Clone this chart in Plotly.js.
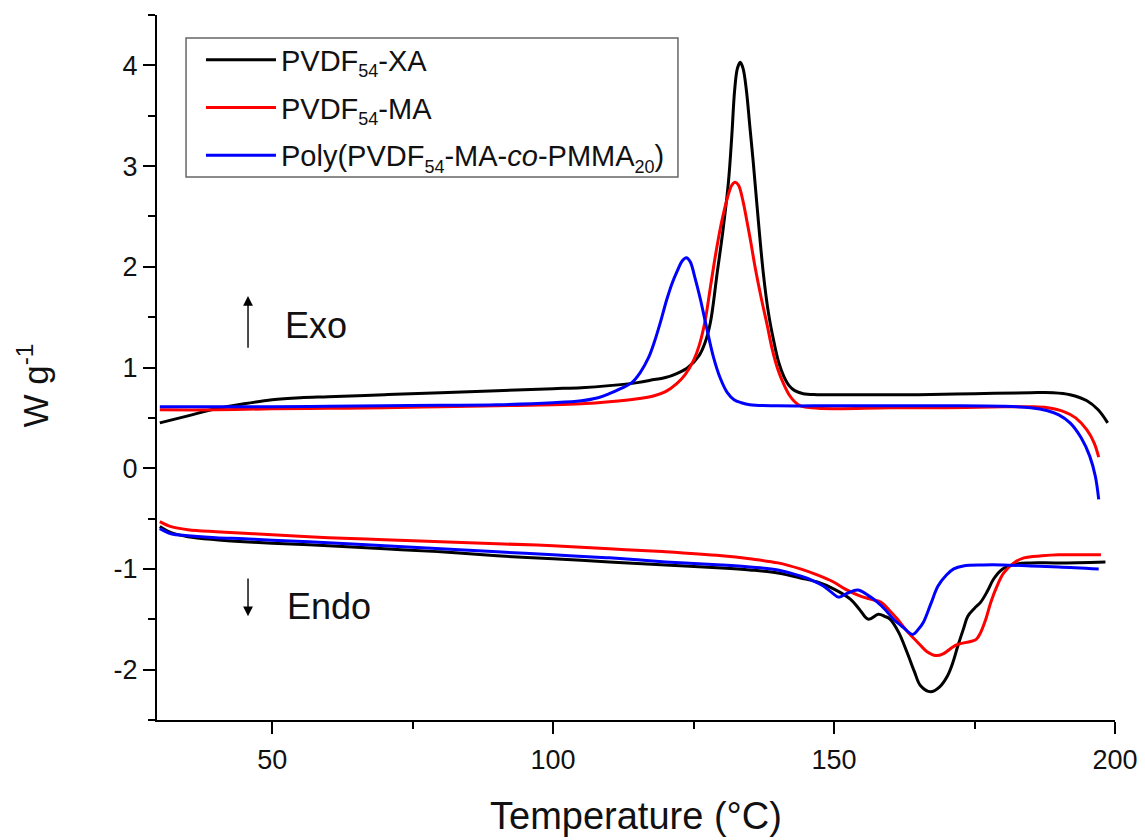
<!DOCTYPE html>
<html>
<head>
<meta charset="utf-8">
<script src="https://cdn.plot.ly/plotly-3.0.1.min.js"></script>
<style>html,body{margin:0;padding:0;background:#fff;}#chart{width:1145px;height:840px;}</style>
</head>
<body>
<div id="chart"></div>
<script>
// ---- Data ----
const SUB = s => '<sub><span style="font-size:18px">' + s + '</span></sub>';
const seriesNames = ['PVDF' + SUB('54') + '-XA', 'PVDF' + SUB('54') + '-MA', 'Poly(PVDF' + SUB('54') + '-MA-<i>co</i>-PMMA' + SUB('20') + ')'];
const seriesColors = ['#000000', '#ff0000', '#0000ff'];

// Cooling (exo) curves
const xaCoolT = [30,35,40,45,50,55,60,70,80,90,100,105,110,115,118,120,122,124,126,127,128,129.2,130.2,131.2,131.8,132.3,132.8,133.3,133.8,134.4,135,135.6,136.3,137.4,138.3,139.2,140.1,141,142,143,144.5,147,155,165,175,185,189,192,195,197,198.7];
const xaCoolW = [0.45,0.52,0.59,0.64,0.68,0.70,0.71,0.73,0.75,0.77,0.79,0.80,0.82,0.85,0.88,0.90,0.94,1.0,1.12,1.24,1.45,1.94,2.35,2.84,3.3,3.75,3.97,4.03,3.97,3.75,3.4,3.05,2.6,1.94,1.55,1.28,1.06,0.92,0.82,0.77,0.74,0.73,0.73,0.73,0.74,0.75,0.75,0.73,0.67,0.58,0.45];

const maCoolT = [30,40,50,60,70,80,90,100,105,110,115,118,120,122,123.5,125,126,127,128,129,130,131,131.8,132.4,133,133.8,134.5,135.1,136,137,138.1,139,140,141,142,143,144,146,150,160,170,180,185,188,191,193,195,196.3,197.1];
const maCoolW = [0.58,0.58,0.59,0.595,0.60,0.61,0.62,0.63,0.64,0.66,0.69,0.72,0.76,0.84,0.93,1.07,1.22,1.45,1.8,2.15,2.45,2.68,2.81,2.84,2.81,2.65,2.45,2.27,1.98,1.7,1.42,1.18,0.98,0.84,0.73,0.66,0.62,0.6,0.59,0.6,0.6,0.61,0.61,0.6,0.56,0.5,0.38,0.25,0.11];

const coCoolT = [30,40,50,60,70,80,90,100,105,108,110,112,114,115.5,117,118,119.1,120.2,121.2,122.1,123,123.7,124.4,125.2,126.2,127.3,128.5,129.7,131,132.2,133.5,135,140,150,160,170,180,185,188,190,192,194,195.5,196.5,197.1];
const coCoolW = [0.61,0.61,0.61,0.615,0.62,0.625,0.63,0.65,0.67,0.70,0.74,0.79,0.85,0.95,1.1,1.25,1.45,1.67,1.84,1.96,2.06,2.09,2.05,1.9,1.68,1.4,1.11,0.9,0.75,0.68,0.65,0.63,0.62,0.62,0.62,0.62,0.615,0.6,0.57,0.53,0.45,0.3,0.12,-0.08,-0.31];

// Heating (endo) curves
const xaHeatT = [30,32,35,40,45,50,60,70,80,90,100,110,120,130,135,140,144,147,150,152.9,154.5,156.1,157.9,159,160,161.5,163,164.3,165.4,167.2,168.8,170.2,171.2,172,173,173.8,175,176.1,177.3,178.4,180,182.6,185,190,198.3];
const xaHeatW = [-0.58,-0.64,-0.68,-0.71,-0.73,-0.745,-0.77,-0.80,-0.83,-0.87,-0.90,-0.93,-0.96,-0.99,-1.01,-1.04,-1.09,-1.13,-1.2,-1.3,-1.4,-1.5,-1.45,-1.47,-1.5,-1.63,-1.83,-2.02,-2.16,-2.22,-2.17,-2.06,-1.92,-1.77,-1.6,-1.47,-1.39,-1.33,-1.22,-1.1,-1.0,-0.95,-0.94,-0.94,-0.93];

const maHeatT = [30,32,35,40,45,50,60,70,80,90,100,110,120,130,135,140,144,147,149.9,152,154.7,156.5,158.3,160,161.3,163,164.9,166.5,168.1,169.5,171,172,174.3,175.3,176.1,177,177.9,179,180.2,182,183.8,187,190,197.5];
const maHeatW = [-0.53,-0.58,-0.61,-0.63,-0.645,-0.66,-0.69,-0.71,-0.73,-0.75,-0.77,-0.80,-0.83,-0.87,-0.9,-0.94,-1.0,-1.06,-1.13,-1.2,-1.27,-1.3,-1.33,-1.42,-1.5,-1.62,-1.73,-1.82,-1.86,-1.84,-1.78,-1.75,-1.72,-1.7,-1.63,-1.5,-1.33,-1.17,-1.04,-0.94,-0.89,-0.87,-0.86,-0.86];

const coHeatT = [30,32,35,40,45,50,60,70,80,90,100,110,120,130,135,140,144,146,148.1,149.5,150.8,152.4,154.2,156,157.7,159.2,160.6,162.3,164,165,165.9,167.2,168.5,170,171.3,173,176.6,180,185,190,197.1];
const coHeatW = [-0.6,-0.65,-0.67,-0.69,-0.70,-0.715,-0.74,-0.77,-0.80,-0.83,-0.86,-0.89,-0.93,-0.96,-0.98,-1.01,-1.07,-1.11,-1.17,-1.23,-1.28,-1.24,-1.21,-1.26,-1.33,-1.41,-1.5,-1.58,-1.65,-1.6,-1.53,-1.35,-1.17,-1.06,-1.0,-0.97,-0.96,-0.96,-0.97,-0.98,-1.0];

const xTickVals = [50, 100, 150, 200];
const yTickVals = [-2, -1, 0, 1, 2, 3, 4];

// ---- Traces ----
const cool = [[xaCoolT, xaCoolW], [maCoolT, maCoolW], [coCoolT, coCoolW]];
const heat = [[xaHeatT, xaHeatW], [maHeatT, maHeatW], [coHeatT, coHeatW]];
const traces = [];
for (let i = 0; i < 3; i++) {
  traces.push({
    x: cool[i][0], y: cool[i][1], type: 'scatter', mode: 'lines',
    name: seriesNames[i], legendgroup: 'g' + i, showlegend: true,
    line: {color: seriesColors[i], width: 3, shape: 'spline', smoothing: 1}
  });
}
for (let i = 0; i < 3; i++) {
  traces.push({
    x: heat[i][0], y: heat[i][1], type: 'scatter', mode: 'lines',
    name: seriesNames[i], legendgroup: 'g' + i, showlegend: false,
    line: {color: seriesColors[i], width: 3, shape: 'spline', smoothing: 1}
  });
}

const fontFam = '"Liberation Sans", Arial, sans-serif';
const layout = {
  width: 1145, height: 840,
  margin: {l: 157, r: 30, t: 15, b: 120},
  paper_bgcolor: '#ffffff', plot_bgcolor: '#ffffff',
  font: {family: fontFam, color: '#111'},
  showlegend: true,
  legend: {
    x: 0.0459, y: 0.9725, xanchor: 'left', yanchor: 'top',
    bgcolor: 'rgba(0,0,0,0)', borderwidth: 0,
    font: {family: fontFam, size: 29, color: '#111'},
    itemwidth: 70, tracegroupgap: 7
  },
  shapes: [
    {type: 'rect', xref: 'paper', yref: 'paper', x0: 0.0303, x1: 0.5438, y0: 0.7702, y1: 0.9674,
     line: {color: '#666', width: 1.5}, fillcolor: 'rgba(0,0,0,0)', layer: 'below'}
  ],
  xaxis: {
    range: [29.5, 200], showgrid: false, zeroline: false,
    showline: true, linewidth: 2, linecolor: '#000',
    ticks: 'outside', ticklen: 12, tickwidth: 2, tickcolor: '#000',
    tickvals: xTickVals, ticktext: xTickVals.map(String),
    tickfont: {size: 27, family: fontFam, color: '#111'}, ticklabelstandoff: 3,
    minor: {tickvals: [75, 125, 175], ticks: 'outside', ticklen: 7, tickwidth: 2, tickcolor: '#000'}
  },
  yaxis: {
    range: [-2.5, 4.5], showgrid: false, zeroline: false,
    showline: true, linewidth: 2, linecolor: '#000',
    ticks: 'outside', ticklen: 12, tickwidth: 2, tickcolor: '#000',
    tickvals: yTickVals, ticktext: yTickVals.map(v => v < 0 ? '-' + Math.abs(v) : String(v)),
    tickfont: {size: 27, family: fontFam, color: '#111'},
    minor: {tickvals: [-2.5, -1.5, -0.5, 0.5, 1.5, 2.5, 3.5, 4.5], ticks: 'outside', ticklen: 7, tickwidth: 2, tickcolor: '#000'}
  },
  annotations: [
    {xref: 'paper', yref: 'paper', x: 0.5, y: -0.136, xanchor: 'center', yanchor: 'middle', showarrow: false,
     text: 'Temperature (°C)', font: {size: 38, family: fontFam, color: '#111'}},
    {xref: 'paper', yref: 'paper', x: -0.129, y: 0.475, xanchor: 'center', yanchor: 'middle', showarrow: false, textangle: -90,
     text: 'W g<sup>-1</sup>', font: {size: 35, family: fontFam, color: '#111'}},
    {x: 45.7, y: 1.71, ax: 45.7, ay: 1.18, axref: 'x', ayref: 'y', xref: 'x', yref: 'y', text: '', showarrow: true, arrowhead: 2, arrowsize: 1.4, arrowwidth: 1.4, arrowcolor: '#000'},
    {x: 45.7, y: -1.47, ax: 45.7, ay: -1.08, axref: 'x', ayref: 'y', xref: 'x', yref: 'y', text: '', showarrow: true, arrowhead: 2, arrowsize: 1.4, arrowwidth: 1.4, arrowcolor: '#000'},
    {x: 52, y: 1.42, xref: 'x', yref: 'y', xanchor: 'left', text: 'Exo', showarrow: false, font: {size: 36, family: fontFam, color: '#111'}},
    {x: 52.3, y: -1.37, xref: 'x', yref: 'y', xanchor: 'left', text: 'Endo', showarrow: false, font: {size: 36, family: fontFam, color: '#111'}}
  ]
};

Plotly.newPlot('chart', traces, layout, {displayModeBar: false, staticPlot: true});
</script>
</body>
</html>
